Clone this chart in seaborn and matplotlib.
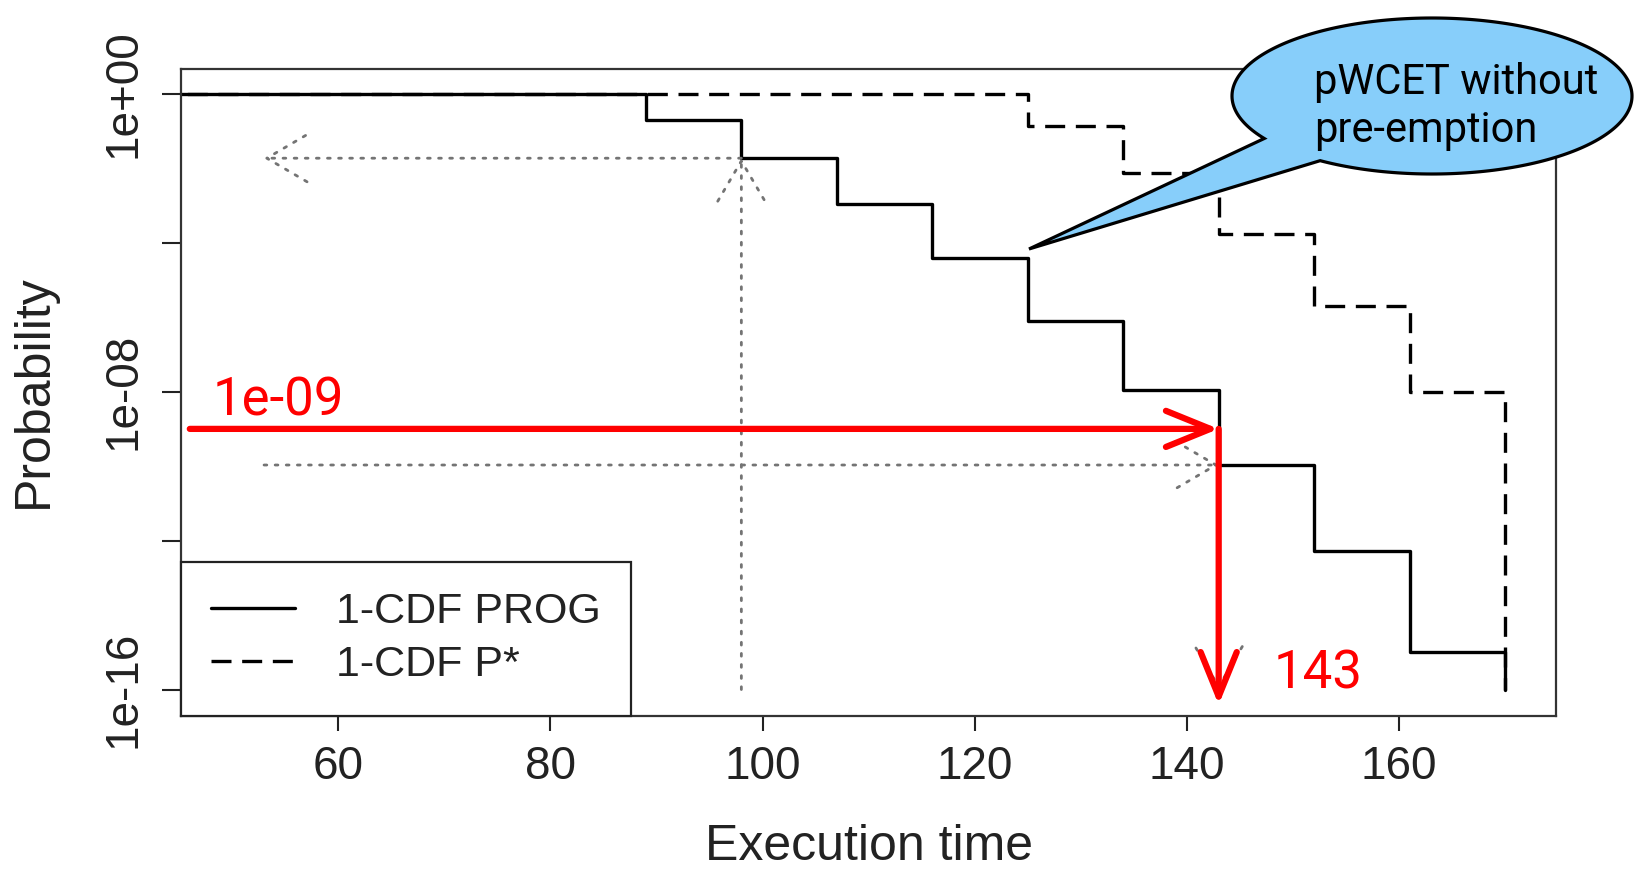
import numpy as np
import matplotlib
matplotlib.use("Agg")
import matplotlib.pyplot as plt
from matplotlib.path import Path
from matplotlib.patches import PathPatch
from matplotlib.lines import Line2D
import seaborn as sns

# ---- data -------------------------------------------------------------
# 1-CDF of PROG: execution time at which each step starts, log10 probability
prog_time = [40, 89, 98, 107, 116, 125, 134, 143, 152, 161, 170]
prog_log10 = [0.0, -0.70, -1.73, -2.97, -4.42, -6.10, -7.95, -9.97, -12.28, -14.98, -16.0]

# 1-CDF of P*
pstar_time = [40, 125, 134, 143, 152, 161, 170]
pstar_log10 = [0.0, -0.86, -2.13, -3.76, -5.70, -8.01, -16.0]

# quantile read-offs on the PROG curve (grey dotted arrows)
quant_times = [98, 143]
quant_left = 53

# highlighted pWCET read-off (red)
target_prob = 1e-9
target_time = 143

legend_labels = ["1-CDF PROG", "1-CDF P*"]
xticks = [60, 80, 100, 120, 140, 160]
yticks = [1e0, 1e-4, 1e-8, 1e-12, 1e-16]
ytick_labels = ["1e+00", "", "1e-08", "", "1e-16"]

# ---- style ------------------------------------------------------------
sns.set_style("ticks")
plt.rcParams["font.family"] = ["Liberation Sans", "DejaVu Sans"]
ANNOT_FONT = ["Roboto", "DejaVu Sans"]

W, H = 1643, 880
fig = plt.figure(figsize=(W / 100, H / 100), dpi=100)
fig.patch.set_facecolor("white")
ax_l, ax_r, ax_t, ax_b = 181.3, 1556.0, 69.2, 715.6
ax = fig.add_axes([ax_l / W, 1 - ax_b / H, (ax_r - ax_l) / W, (ax_b - ax_t) / H])
ax.set_facecolor("white")

prog_p = [10 ** v for v in prog_log10]
pstar_p = [10 ** v for v in pstar_log10]

sns.lineplot(x=prog_time, y=prog_p, ax=ax, color="black", lw=2.4,
             drawstyle="steps-post", estimator=None, sort=False)
sns.lineplot(x=pstar_time, y=pstar_p, ax=ax, color="black", lw=2.4,
             drawstyle="steps-post", estimator=None, sort=False)
ax.lines[-1].set_linestyle((0, (6, 3.2)))

ax.set_yscale("log")
ax.set_xlim(45.2, 174.8)
ax.set_ylim(10 ** -16.7, 10 ** 0.66)

# grey dotted quantile arrows
grey = "#747474"
dot = (0, (1, 3))
def dotted_arrow(x0, y0, x1, y1):
    ax.annotate("", xy=(x1, y1), xytext=(x0, y0),
                arrowprops=dict(arrowstyle="->,head_length=2.9,head_width=1.7",
                                color=grey, lw=2, linestyle=dot,
                                shrinkA=0, shrinkB=0, mutation_scale=10),
                zorder=3)

qa = prog_p[prog_time.index(quant_times[0])]
qb = prog_p[prog_time.index(quant_times[1])]
dotted_arrow(quant_times[0], qa, quant_left, qa)
dotted_arrow(quant_times[0], 1e-16, quant_times[0], qa)
dotted_arrow(quant_left, qb, quant_times[1], qb)
dotted_arrow(quant_times[1], qb, quant_times[1], 1e-16)

# red read-off arrows
red = "#ff0000"
red_props = dict(arrowstyle="->,head_length=3.2,head_width=1.3", color=red,
                 lw=4.5, shrinkA=0, shrinkB=0, mutation_scale=10,
                 capstyle="round", joinstyle="round")
ax.annotate("", xy=(target_time, target_prob), xytext=(46.0, target_prob),
            arrowprops=red_props, zorder=6)
ax.annotate("", xy=(target_time, 10 ** -16.41), xytext=(target_time, target_prob),
            arrowprops=red_props, zorder=6)

# axes, ticks, labels
ax.set_xticks(xticks)
ax.set_xticklabels([str(v) for v in xticks])
ax.set_yticks(yticks)
ax.set_yticklabels(ytick_labels)
ax.minorticks_off()
ax.yaxis.set_minor_locator(matplotlib.ticker.NullLocator())
ax.tick_params(axis="x", length=11, width=1.5, pad=10, labelsize=33, colors="#222222")
ax.tick_params(axis="y", length=13.5, width=1.5, pad=12, labelsize=33, colors="#222222",
               labelrotation=90)
for lab in ax.get_yticklabels():
    lab.set_va("center")
for s in ax.spines.values():
    s.set_visible(True)
    s.set_color("#333333")
    s.set_linewidth(1.6)

ax.set_xlabel("Execution time", fontsize=36, color="#222222")
ax.xaxis.set_label_coords(0.5, -0.2033)
ax.xaxis.label.set_va("center")
ax.set_ylabel("Probability", fontsize=36, color="#222222")
ax.yaxis.set_label_coords(-0.1075, 0.5025)
ax.yaxis.label.set_va("center")

handles = [Line2D([], [], color="black", lw=2.4),
           Line2D([], [], color="black", lw=2.4, linestyle=(0, (6, 3.2)))]
leg = ax.legend(handles, legend_labels, loc="lower left", bbox_to_anchor=(0, 0),
                borderaxespad=0, fontsize=31, frameon=True, fancybox=False,
                framealpha=1, edgecolor="#222222", handlelength=1.95,
                handletextpad=0.95, borderpad=0.7, labelspacing=0.32)
leg.get_frame().set_linewidth(1.6)
for t in leg.get_texts():
    t.set_color("#222222")

# red value labels
fig.text(212.5 / W, 1 - 415 / H, "1e-09", color=red, fontsize=38,
         family=ANNOT_FONT, ha="left", va="baseline")
fig.text(1274 / W, 1 - 688 / H, "143", color=red, fontsize=38,
         family=ANNOT_FONT, ha="left", va="baseline")

# speech bubble pointing at the PROG curve
cx, cy, ra, rb = 1432.0, 96.0, 200.0, 78.0
tip = (1029, 249)
ang = np.radians(np.linspace(147, 124 + 360, 240))
ex = cx + ra * np.cos(ang)
ey = cy + rb * np.sin(ang)
verts = [(x / W, 1 - y / H) for x, y in zip(ex, ey)]
verts.append((tip[0] / W, 1 - tip[1] / H))
verts.append(verts[0])
codes = [Path.MOVETO] + [Path.LINETO] * (len(verts) - 2) + [Path.CLOSEPOLY]
bubble = PathPatch(Path(verts, codes), transform=fig.transFigure,
                   facecolor="#87CEFA", edgecolor="black", lw=2.3,
                   joinstyle="miter", zorder=20)
fig.add_artist(bubble)
fig.text(1314 / W, 1 - 94 / H, "pWCET without", fontsize=30, family=ANNOT_FONT,
         color="black", ha="left", va="baseline", zorder=21)
fig.text(1314 / W, 1 - 142 / H, "pre-emption", fontsize=30, family=ANNOT_FONT,
         color="black", ha="left", va="baseline", zorder=21)

fig.savefig("out.png", dpi=100, facecolor="white")
